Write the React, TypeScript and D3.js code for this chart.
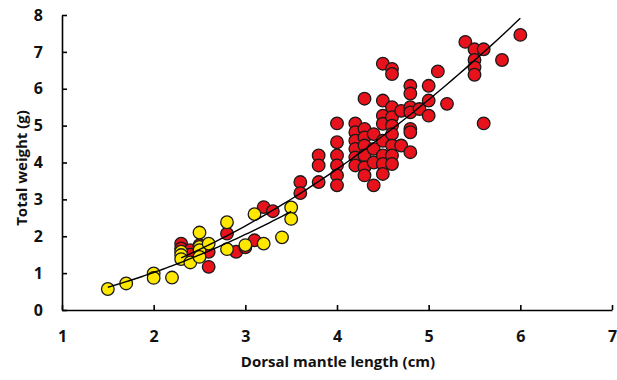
import React, { useEffect, useRef } from 'react';
import * as d3 from 'd3';

// yellow series (small animals)
const yellowLength = [1.5, 1.7, 2.0, 2.0, 2.2, 2.3, 2.3, 2.3, 2.4, 2.5, 2.5, 2.5, 2.5, 2.6, 2.8, 2.8, 3.0, 3.1, 3.2, 3.4, 3.5, 3.5];
const yellowWeight = [0.57, 0.72, 0.99, 0.87, 0.88, 1.58, 1.49, 1.38, 1.29, 2.1, 1.71, 1.62, 1.44, 1.8, 2.38, 1.65, 1.76, 2.6, 1.8, 1.97, 2.78, 2.47];

// red series
const redLength = [
  2.3, 2.3, 2.4, 2.4, 2.5, 2.6, 2.6, 2.8, 2.9, 3.0, 3.1, 3.2, 3.3, 3.6, 3.6, 3.8, 3.8, 3.8,
  4.0, 4.0, 4.0, 4.0, 4.0, 4.0,
  4.2, 4.2, 4.2, 4.2, 4.2, 4.2,
  4.3, 4.3, 4.3, 4.3, 4.3, 4.3, 4.3,
  4.4, 4.4, 4.4, 4.4,
  4.5, 4.5, 4.5, 4.5, 4.5, 4.5, 4.5, 4.5,
  4.6, 4.6, 4.6, 4.6, 4.6, 4.6, 4.6, 4.6, 4.6,
  4.7, 4.7,
  4.8, 4.8, 4.8, 4.8, 4.8, 4.8, 4.8,
  4.9, 5.0, 5.0, 5.0, 5.1, 5.2, 5.4, 5.5, 5.5, 5.5, 5.5, 5.6, 5.6, 5.8, 6.0,
];
const redWeight = [
  1.8, 1.67, 1.62, 1.5, 1.76, 1.58, 1.17, 2.07, 1.58, 1.7, 1.89, 2.79, 2.68, 3.47, 3.17, 4.19, 3.92, 3.47,
  5.06, 4.55, 4.19, 3.92, 3.65, 3.38,
  5.06, 4.82, 4.59, 4.37, 4.14, 3.92,
  5.73, 4.91, 4.68, 4.46, 4.19, 3.87, 3.65,
  4.77, 4.37, 4.0, 3.38,
  6.68, 5.68, 5.27, 5.05, 4.59, 4.19, 3.96, 3.69,
  6.54, 6.4, 5.5, 5.23, 5.0, 4.77, 4.46, 4.19, 3.96,
  5.4, 4.46,
  6.08, 5.87, 5.5, 5.36, 4.91, 4.82, 4.28,
  5.45, 6.08, 5.68, 5.27, 6.47, 5.59, 7.27, 7.07, 6.78, 6.58, 6.38, 7.07, 5.06, 6.78, 7.46,
];

const xTicks = [1, 2, 3, 4, 5, 6, 7];
const yTicks = [0, 1, 2, 3, 4, 5, 6, 7, 8];

const FONT = '"Open Sans", sans-serif';

// power trendline (least squares in log-log space, like the spreadsheet does)
function powerFit(xs: number[], ys: number[]) {
  const lx = xs.map(Math.log);
  const ly = ys.map(Math.log);
  const mx = d3.mean(lx)!;
  const my = d3.mean(ly)!;
  const b = d3.sum(lx, (v, i) => (v - mx) * (ly[i] - my)) / d3.sum(lx, v => (v - mx) ** 2);
  const a = Math.exp(my - b * mx);
  return (x: number) => a * Math.pow(x, b);
}

export default function App() {
  const svgRef = useRef<SVGSVGElement>(null);

  useEffect(() => {
    if (!svgRef.current) return;
    const svg = d3.select(svgRef.current);
    svg.selectAll('*').remove();

    const x = d3.scaleLinear().domain([1, 7]).range([62, 612]);
    const y = d3.scaleLinear().domain([0, 8]).range([310, 15]);

    const series = [
      { name: 'red', xs: redLength, ys: redWeight, fill: '#e8121c' },
      { name: 'yellow', xs: yellowLength, ys: yellowWeight, fill: '#ffe800' },
    ];

    // markers
    series.forEach(s => {
      svg.append('g')
        .selectAll('circle')
        .data(s.xs.map((v, i) => [v, s.ys[i]]))
        .join('circle')
        .attr('cx', d => x(d[0]))
        .attr('cy', d => y(d[1]))
        .attr('r', 6.3)
        .attr('fill', s.fill)
        .attr('stroke', '#1a1a1a')
        .attr('stroke-width', 1.3);
    });

    // trendlines on top
    series.forEach(s => {
      const f = powerFit(s.xs, s.ys);
      const [lo, hi] = d3.extent(s.xs) as [number, number];
      const pts = d3.range(0, 61).map(i => lo + (hi - lo) * i / 60);
      svg.append('path')
        .datum(pts)
        .attr('fill', 'none')
        .attr('stroke', '#000')
        .attr('stroke-width', 1.4)
        .attr('d', d3.line<number>().x(d => x(d)).y(d => y(f(d))));
    });

    // axes
    const fmt = d3.format('d');
    const yAxis = svg.append('g')
      .attr('transform', 'translate(62,0)')
      .call(d3.axisLeft(y).tickValues(yTicks).tickFormat(d => fmt(d as number))
        .tickSizeInner(-5).tickSizeOuter(0).tickPadding(19));
    const xAxis = svg.append('g')
      .attr('transform', 'translate(0,310)')
      .call(d3.axisBottom(x).tickValues(xTicks).tickFormat(d => fmt(d as number))
        .tickSizeInner(-5).tickSizeOuter(0).tickPadding(21));

    [yAxis, xAxis].forEach(g => {
      g.selectAll('.domain, .tick line').attr('stroke', '#000').attr('stroke-width', 1.6);
      g.selectAll('text')
        .attr('font-family', FONT)
        .attr('font-weight', 700)
        .attr('font-size', 16)
        .attr('fill', '#111');
    });

    svg.append('text')
      .attr('x', 338)
      .attr('y', 367)
      .attr('text-anchor', 'middle')
      .attr('font-family', FONT)
      .attr('font-weight', 700)
      .attr('font-size', 15)
      .attr('fill', '#111')
      .text('Dorsal mantle length (cm)');

    svg.append('text')
      .attr('transform', 'translate(27,168) rotate(-90)')
      .attr('text-anchor', 'middle')
      .attr('font-family', FONT)
      .attr('font-weight', 700)
      .attr('font-size', 15)
      .attr('fill', '#111')
      .text('Total weight (g)');
  }, []);

  return (
    <svg
      ref={svgRef}
      width={617}
      height={380}
      style={{ position: 'absolute', left: 0, top: 0, background: '#fff' }}
    />
  );
}
